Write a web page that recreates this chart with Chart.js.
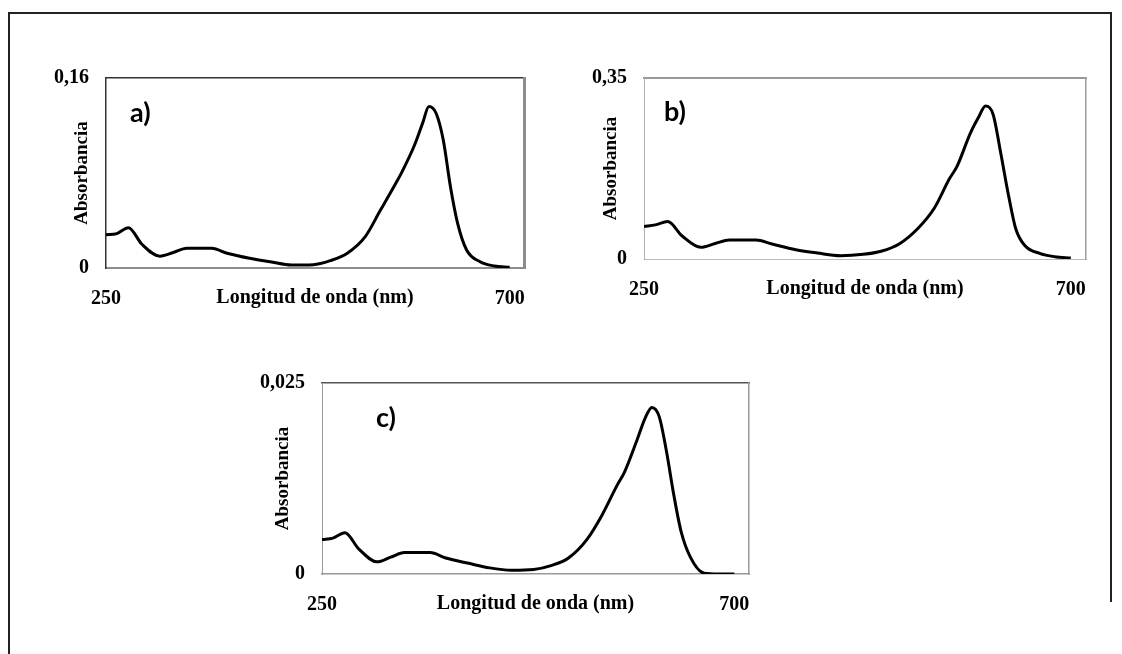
<!DOCTYPE html>
<html>
<head>
<meta charset="utf-8">
<script src="https://cdn.jsdelivr.net/npm/chart.js@4.4.1/dist/chart.umd.min.js"></script>
<style>
body { margin: 0; background: #fff; width: 1122px; height: 654px; position: relative; overflow: hidden; }
.marco { position: absolute; left: 8px; top: 12px; width: 1102px; height: 700px; border: 2px solid #222; border-bottom: none; border-right: none; }
.marcoDer { position: absolute; left: 1110px; top: 12px; width: 2px; height: 590px; background: #222; }
canvas { position: absolute; }
</style>
</head>
<body>
<div class="marco"></div>
<div class="marcoDer"></div>
<canvas id="graficoA" width="523" height="275" style="left:26px;top:48px"></canvas>
<canvas id="graficoB" width="547" height="266" style="left:564px;top:48px"></canvas>
<canvas id="graficoC" width="532" height="276" style="left:242px;top:353px"></canvas>
<script>
var longitudes = [250, 262, 275, 290, 310, 325, 340, 355, 368, 385, 410, 433, 457, 481, 500, 519, 539, 556, 572, 580, 594, 603, 610, 618, 626, 634, 642, 652, 667, 683, 700];
var absorbanciaA = [0.028, 0.029, 0.034, 0.020, 0.010, 0.013, 0.0166, 0.0166, 0.0166, 0.0124, 0.0082, 0.0053, 0.0025, 0.0028, 0.0062, 0.0124, 0.0264, 0.0488, 0.0699, 0.081, 0.1036, 0.122, 0.136, 0.1303, 0.1078, 0.0685, 0.0376, 0.0152, 0.0053, 0.0017, 0.0006];
var absorbanciaB = [0.0626, 0.066, 0.0723, 0.045, 0.0226, 0.030, 0.0368, 0.0368, 0.0368, 0.029, 0.018, 0.0115, 0.0064, 0.009, 0.015, 0.029, 0.0594, 0.098, 0.155, 0.179, 0.243, 0.275, 0.296, 0.28, 0.206, 0.126, 0.058, 0.025, 0.011, 0.0045, 0.0019];
var absorbanciaC = [0.0045, 0.0047, 0.0054, 0.0033, 0.0016, 0.0022, 0.0028, 0.0028, 0.0028, 0.0021, 0.0014, 0.0008, 0.0005, 0.0006, 0.0011, 0.0021, 0.0045, 0.0078, 0.0116, 0.0133, 0.0176, 0.0205, 0.0218, 0.0206, 0.016, 0.0103, 0.0055, 0.0022, 0.0001, 0, 0];

var ticksX = [250, 700];
var ticksA = [0, 0.16];
var etiquetasA = ['0', '0,16'];
var ticksB = [0, 0.35];
var etiquetasB = ['0', '0,35'];
var ticksC = [0, 0.025];
var etiquetasC = ['0', '0,025'];

var fuente = { family: 'Liberation Serif', size: 20, weight: 'bold' };
var fuenteTituloY = { family: 'Liberation Serif', size: 19, weight: 'bold' };

// letra a) b) c) dentro del area
var letraPanel = {
    id: 'letraPanel',
    afterDraw: function (chart, args, opts) {
        var ctx = chart.ctx;
        var area = chart.chartArea;
        ctx.save();
        ctx.font = 'bold 27px Lato';
        ctx.fillStyle = '#000';
        ctx.textBaseline = 'middle';
        ctx.textAlign = 'left';
        ctx.fillText(opts.texto, area.left + opts.dx, area.top + opts.dy);
        ctx.restore();
    }
};

function crearGrafico(id, letra, valores, ticksY, etiquetasY, estilo) {
    var ctx = document.getElementById(id);
    return new Chart(ctx, {
        type: 'line',
        data: {
            datasets: [{
                data: longitudes.map(function (l, i) { return { x: l, y: valores[i] }; }),
                borderColor: '#000',
                borderWidth: 3,
                pointRadius: 0,
                fill: false,
                cubicInterpolationMode: 'monotone'
            }]
        },
        plugins: [letraPanel],
        options: {
            responsive: false,
            animation: false,
            devicePixelRatio: 1,
            layout: { padding: { left: 10, top: 30, right: 25, bottom: 5 } },
            plugins: {
                legend: { display: false },
                tooltip: { enabled: false },
                letraPanel: { texto: letra, dx: estilo.dx, dy: estilo.dy }
            },
            scales: {
                x: {
                    type: 'linear',
                    position: 'bottom',
                    min: 250,
                    max: 716,
                    afterBuildTicks: function (s) { s.ticks = ticksX.map(function (v) { return { value: v }; }); },
                    afterFit: function (s) { s.height = 50; },
                    grid: { display: false, drawTicks: false },
                    border: { color: estilo.abajo[0], width: estilo.abajo[1] },
                    ticks: { font: fuente, color: '#000', padding: 19, maxRotation: 0, autoSkip: false,
                        callback: function (v) { return String(v); } },
                    title: { display: true, text: 'Longitud de onda (nm)', font: fuente, color: '#000',
                        padding: { top: 0, bottom: 8 } }
                },
                x2: {
                    type: 'linear',
                    position: 'top',
                    afterFit: function (s) { s.height = 0; },
                    grid: { display: false, drawTicks: false },
                    ticks: { display: false },
                    border: { color: estilo.arriba[0], width: estilo.arriba[1] }
                },
                y: {
                    type: 'linear',
                    position: 'left',
                    min: ticksY[0],
                    max: ticksY[1],
                    afterBuildTicks: function (s) { s.ticks = ticksY.map(function (v) { return { value: v }; }); },
                    afterFit: function (s) { s.width = 70; },
                    grid: { display: false, drawTicks: false },
                    border: { color: estilo.izq[0], width: estilo.izq[1] },
                    ticks: { font: fuente, color: '#000', padding: 17,
                        callback: function (v, i) { return etiquetasY[i]; } },
                    title: { display: true, text: 'Absorbancia', font: fuenteTituloY, color: '#000',
                        padding: { top: estilo.tituloY, bottom: 0 } }
                },
                y2: {
                    type: 'linear',
                    position: 'right',
                    afterFit: function (s) { s.width = 0; },
                    grid: { display: false, drawTicks: false },
                    ticks: { display: false },
                    border: { color: estilo.der[0], width: estilo.der[1] }
                }
            }
        }
    });
}

crearGrafico('graficoA', 'a)', absorbanciaA, ticksA, etiquetasA, {
    dx: 24, dy: 35, tituloY: 35,
    arriba: ['#333', 1.5], izq: ['#333', 1.5], der: ['#8c8c8c', 3], abajo: ['#8c8c8c', 2]
});
crearGrafico('graficoB', 'b)', absorbanciaB, ticksB, etiquetasB, {
    dx: 20, dy: 34, tituloY: 25.6,
    arriba: ['#9a9a9a', 2], izq: ['#b0b0b0', 1], der: ['#a0a0a0', 1.5], abajo: ['#bbbbbb', 1]
});
crearGrafico('graficoC', 'c)', absorbanciaC, ticksC, etiquetasC, {
    dx: 54, dy: 35, tituloY: 19.6,
    arriba: ['#555', 1.5], izq: ['#999', 1], der: ['#999', 1.5], abajo: ['#999', 1.5]
});
</script>
</body>
</html>
